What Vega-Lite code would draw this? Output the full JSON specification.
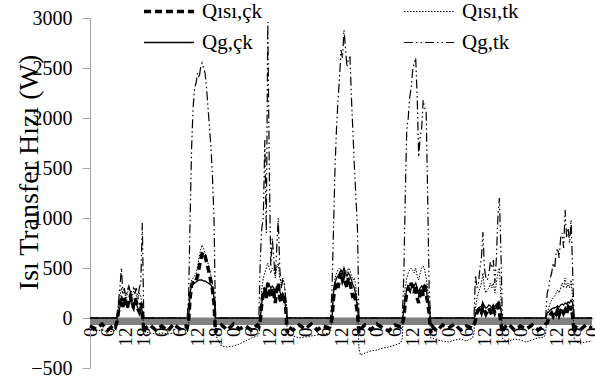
{
"$schema": "https://vega.github.io/schema/vega-lite/v6.json",
"width": 502, "height": 350,
"autosize": {"type": "none"},
"padding": {"left": 90, "top": 18, "right": 3, "bottom": 14},
"config": {"view": {"stroke": null}, "font": "Liberation Serif",
 "axis": {"labelFont": "Liberation Serif", "titleFont": "Liberation Serif", "labelOverlap": false},
 "legend": {"labelFont": "Liberation Serif"}},
"layer": [
{"data": {"values": [{}]},
 "mark": {"type": "rect", "color": "#808080"},
 "encoding": {
  "x": {"datum": 0, "type": "quantitative", "scale": {"domain": [0, 168], "nice": false, "zero": false},
   "axis": {"values": [0,6,12,18,24,30,36,42,48,54,60,66,72,78,84,90,96,102,108,114,120,126,132,138,144,150,156,162,168],
    "labelExpr": "'' + (datum.value % 24)", "labelAngle": -90, "labelFont": "Liberation Serif", "labelFontSize": 19,
    "labelColor": "black", "labelPadding": 9, "ticks": false, "grid": false, "offset": -50,
    "domainColor": "black", "domainWidth": 1.5, "title": null, "labelFlush": false, "labelOverlap": false}},
  "x2": {"datum": 168},
  "y": {"datum": 0, "type": "quantitative", "scale": {"domain": [-500, 3000], "nice": false},
   "axis": {"values": [-500,0,500,1000,1500,2000,2500,3000], "format": "d",
    "title": "Isı Transfer Hızı (W)", "titleFont": "Liberation Serif", "titleFontSize": 28, "titleFontWeight": "normal",
    "titleColor": "black", "titleX": -61, "titleY": 154, "titleAngle": -90, "titleBaseline": "middle", "titleAlign": "center",
    "labelFont": "Liberation Serif", "labelFontSize": 20, "labelColor": "black", "labelPadding": 10,
    "tickSize": 8, "tickColor": "#a6a6a6", "domainColor": "#a6a6a6", "gridColor": "#d9d9d9", "gridWidth": 1.5}},
  "y2": {"datum": -70}
 }},
{"data": {"values": [
{"t":0,"a":-80,"b":-120,"c":0,"d":0},{"t":2,"a":-110,"b":-130,"c":0,"d":0},{"t":4,"a":-60,"b":-120,"c":0,"d":0},{"t":6,"a":-120,"b":-140,"c":0,"d":0},{"t":8,"a":-70,"b":-130,"c":0,"d":0},{"t":8.5,"a":-90,"b":-120,"c":0,"d":0},
{"t":9,"a":-40,"b":-60,"c":0,"d":0},{"t":9.5,"a":60,"b":100,"c":50,"d":150},{"t":10,"a":150,"b":200,"c":110,"d":300},{"t":10.5,"a":180,"b":300,"c":150,"d":500},{"t":11,"a":110,"b":240,"c":120,"d":250},{"t":11.5,"a":200,"b":280,"c":170,"d":300},{"t":12,"a":150,"b":200,"c":130,"d":200},{"t":12.5,"a":100,"b":240,"c":110,"d":280},{"t":13,"a":180,"b":300,"c":160,"d":320},{"t":13.5,"a":220,"b":260,"c":180,"d":250},{"t":14,"a":140,"b":200,"c":130,"d":270},{"t":14.5,"a":110,"b":260,"c":110,"d":300},{"t":15,"a":200,"b":300,"c":170,"d":250},{"t":15.5,"a":160,"b":220,"c":140,"d":300},{"t":16,"a":90,"b":180,"c":100,"d":200},{"t":16.5,"a":60,"b":250,"c":80,"d":300},{"t":17,"a":150,"b":220,"c":130,"d":350},{"t":17.5,"a":100,"b":100,"c":60,"d":950},{"t":18,"a":-150,"b":-120,"c":0,"d":0},
{"t":18.5,"a":-100,"b":-140,"c":0,"d":0},{"t":20,"a":-70,"b":-150,"c":0,"d":0},{"t":22,"a":-120,"b":-160,"c":0,"d":0},
{"t":24,"a":-80,"b":-150,"c":0,"d":0},{"t":26,"a":-130,"b":-160,"c":0,"d":0},{"t":28,"a":-60,"b":-150,"c":0,"d":0},{"t":30,"a":-110,"b":-170,"c":0,"d":0},{"t":32,"a":-80,"b":-160,"c":0,"d":0},{"t":32.5,"a":-100,"b":-150,"c":0,"d":0},
{"t":33,"a":-30,"b":-50,"c":0,"d":200},{"t":33.5,"a":200,"b":250,"c":250,"d":1000},{"t":34,"a":330,"b":380,"c":330,"d":1700},{"t":34.5,"a":350,"b":400,"c":350,"d":2100},{"t":35,"a":340,"b":420,"c":350,"d":2300},{"t":35.5,"a":380,"b":450,"c":360,"d":2350},{"t":36,"a":420,"b":520,"c":370,"d":2450},{"t":36.5,"a":500,"b":600,"c":380,"d":2400},{"t":37,"a":580,"b":680,"c":380,"d":2500},{"t":37.5,"a":640,"b":730,"c":380,"d":2550},{"t":38,"a":660,"b":700,"c":370,"d":2500},{"t":38.5,"a":620,"b":650,"c":370,"d":2450},{"t":39,"a":560,"b":600,"c":360,"d":2300},{"t":39.5,"a":500,"b":550,"c":350,"d":2100},{"t":40,"a":430,"b":480,"c":340,"d":1900},{"t":40.5,"a":360,"b":420,"c":330,"d":1700},{"t":41,"a":280,"b":350,"c":300,"d":1400},{"t":41.5,"a":150,"b":200,"c":200,"d":1000},{"t":42,"a":-150,"b":-150,"c":0,"d":0},
{"t":42.5,"a":-100,"b":-200,"c":0,"d":0},{"t":44,"a":-70,"b":-280,"c":0,"d":0},{"t":46,"a":-120,"b":-290,"c":0,"d":0},
{"t":48,"a":-60,"b":-280,"c":0,"d":0},{"t":50,"a":-110,"b":-260,"c":0,"d":0},{"t":52,"a":-80,"b":-230,"c":0,"d":0},{"t":54,"a":-120,"b":-200,"c":0,"d":0},{"t":56,"a":-70,"b":-180,"c":0,"d":0},{"t":56.5,"a":-90,"b":-170,"c":0,"d":0},
{"t":57,"a":-20,"b":0,"c":0,"d":600},{"t":57.5,"a":150,"b":300,"c":150,"d":900},{"t":58,"a":250,"b":400,"c":250,"d":1000},{"t":58.5,"a":300,"b":450,"c":300,"d":1780},{"t":59,"a":200,"b":500,"c":280,"d":850},{"t":59.5,"a":350,"b":550,"c":350,"d":2960},{"t":60,"a":280,"b":500,"c":330,"d":1500},{"t":60.5,"a":200,"b":450,"c":300,"d":510},{"t":61,"a":300,"b":500,"c":320,"d":800},{"t":61.5,"a":250,"b":480,"c":300,"d":600},{"t":62,"a":150,"b":420,"c":260,"d":400},{"t":62.5,"a":280,"b":500,"c":300,"d":700},{"t":63,"a":350,"b":550,"c":330,"d":1000},{"t":63.5,"a":200,"b":400,"c":270,"d":500},{"t":64,"a":150,"b":350,"c":220,"d":300},{"t":64.5,"a":250,"b":400,"c":250,"d":380},{"t":65,"a":200,"b":350,"c":200,"d":350},{"t":65.5,"a":100,"b":200,"c":100,"d":200},{"t":66,"a":-150,"b":-150,"c":0,"d":0},
{"t":66.5,"a":-90,"b":-160,"c":0,"d":0},{"t":68,"a":-120,"b":-180,"c":0,"d":0},{"t":70,"a":-70,"b":-200,"c":0,"d":0},
{"t":72,"a":-110,"b":-190,"c":0,"d":0},{"t":74,"a":-60,"b":-180,"c":0,"d":0},{"t":76,"a":-120,"b":-170,"c":0,"d":0},{"t":78,"a":-80,"b":-160,"c":0,"d":0},{"t":80,"a":-100,"b":-150,"c":0,"d":0},{"t":80.5,"a":-70,"b":-140,"c":0,"d":0},
{"t":81,"a":0,"b":50,"c":0,"d":300},{"t":81.5,"a":200,"b":300,"c":250,"d":900},{"t":82,"a":300,"b":400,"c":350,"d":1500},{"t":82.5,"a":350,"b":450,"c":400,"d":1900},{"t":83,"a":300,"b":480,"c":420,"d":2180},{"t":83.5,"a":400,"b":500,"c":450,"d":2400},{"t":84,"a":450,"b":480,"c":480,"d":2680},{"t":84.5,"a":380,"b":450,"c":450,"d":2600},{"t":85,"a":420,"b":500,"c":500,"d":2880},{"t":85.5,"a":350,"b":480,"c":450,"d":2700},{"t":86,"a":300,"b":450,"c":420,"d":2510},{"t":86.5,"a":400,"b":500,"c":450,"d":2600},{"t":87,"a":350,"b":480,"c":420,"d":2610},{"t":87.5,"a":280,"b":420,"c":380,"d":2200},{"t":88,"a":200,"b":380,"c":330,"d":1850},{"t":88.5,"a":250,"b":400,"c":300,"d":1500},{"t":89,"a":150,"b":300,"c":220,"d":1200},{"t":89.5,"a":50,"b":150,"c":100,"d":900},{"t":90,"a":-150,"b":-300,"c":0,"d":0},
{"t":90.5,"a":-110,"b":-370,"c":0,"d":0},{"t":92,"a":-70,"b":-350,"c":0,"d":0},{"t":94,"a":-120,"b":-330,"c":0,"d":0},
{"t":96,"a":-60,"b":-320,"c":0,"d":0},{"t":98,"a":-100,"b":-300,"c":0,"d":0},{"t":100,"a":-130,"b":-290,"c":0,"d":0},{"t":102,"a":-70,"b":-270,"c":0,"d":0},{"t":104,"a":-90,"b":-250,"c":0,"d":0},{"t":104.5,"a":-60,"b":-200,"c":0,"d":0},
{"t":105,"a":0,"b":100,"c":50,"d":400},{"t":105.5,"a":150,"b":300,"c":200,"d":1210},{"t":106,"a":250,"b":400,"c":280,"d":1880},{"t":106.5,"a":300,"b":450,"c":320,"d":2000},{"t":107,"a":280,"b":480,"c":330,"d":2210},{"t":107.5,"a":350,"b":500,"c":350,"d":2300},{"t":108,"a":300,"b":480,"c":340,"d":2480},{"t":108.5,"a":250,"b":450,"c":320,"d":2550},{"t":109,"a":330,"b":500,"c":350,"d":2600},{"t":109.5,"a":200,"b":420,"c":300,"d":2210},{"t":110,"a":150,"b":380,"c":260,"d":1610},{"t":110.5,"a":250,"b":450,"c":300,"d":1810},{"t":111,"a":300,"b":500,"c":320,"d":1900},{"t":111.5,"a":220,"b":520,"c":300,"d":2180},{"t":112,"a":350,"b":480,"c":330,"d":2100},{"t":112.5,"a":250,"b":400,"c":280,"d":2080},{"t":113,"a":150,"b":300,"c":200,"d":1210},{"t":113.5,"a":50,"b":100,"c":80,"d":300},{"t":114,"a":-150,"b":-200,"c":0,"d":0},
{"t":114.5,"a":-80,"b":-200,"c":0,"d":0},{"t":116,"a":-130,"b":-220,"c":0,"d":0},{"t":118,"a":-70,"b":-230,"c":0,"d":0},
{"t":120,"a":-100,"b":-240,"c":0,"d":0},{"t":122,"a":-60,"b":-220,"c":0,"d":0},{"t":124,"a":-120,"b":-210,"c":0,"d":0},{"t":126,"a":-80,"b":-230,"c":0,"d":0},{"t":128,"a":-100,"b":-200,"c":0,"d":0},{"t":128.5,"a":-70,"b":-150,"c":0,"d":0},
{"t":129,"a":-20,"b":100,"c":30,"d":430},{"t":129.5,"a":50,"b":200,"c":80,"d":300},{"t":130,"a":80,"b":250,"c":100,"d":350},{"t":130.5,"a":100,"b":300,"c":110,"d":500},{"t":131,"a":60,"b":350,"c":120,"d":600},{"t":131.5,"a":120,"b":450,"c":140,"d":860},{"t":132,"a":80,"b":300,"c":120,"d":500},{"t":132.5,"a":40,"b":250,"c":100,"d":400},{"t":133,"a":70,"b":280,"c":110,"d":380},{"t":133.5,"a":100,"b":300,"c":130,"d":450},{"t":134,"a":60,"b":350,"c":120,"d":560},{"t":134.5,"a":30,"b":300,"c":100,"d":500},{"t":135,"a":90,"b":350,"c":130,"d":580},{"t":135.5,"a":50,"b":250,"c":110,"d":350},{"t":136,"a":80,"b":350,"c":140,"d":600},{"t":136.5,"a":120,"b":450,"c":150,"d":1000},{"t":137,"a":60,"b":500,"c":160,"d":1200},{"t":137.5,"a":-50,"b":200,"c":80,"d":700},{"t":138,"a":-150,"b":-200,"c":0,"d":0},
{"t":138.5,"a":-100,"b":-220,"c":0,"d":0},{"t":140,"a":-60,"b":-230,"c":0,"d":0},{"t":142,"a":-120,"b":-210,"c":0,"d":0},
{"t":144,"a":-80,"b":-220,"c":0,"d":0},{"t":146,"a":-110,"b":-240,"c":0,"d":0},{"t":148,"a":-70,"b":-220,"c":0,"d":0},{"t":150,"a":-120,"b":-200,"c":0,"d":0},{"t":152,"a":-80,"b":-190,"c":0,"d":0},{"t":152.5,"a":-60,"b":-150,"c":0,"d":0},
{"t":153,"a":-50,"b":50,"c":50,"d":250},{"t":153.5,"a":0,"b":100,"c":60,"d":300},{"t":154,"a":30,"b":150,"c":80,"d":400},{"t":154.5,"a":50,"b":180,"c":90,"d":450},{"t":155,"a":20,"b":200,"c":100,"d":550},{"t":155.5,"a":60,"b":220,"c":100,"d":500},{"t":156,"a":40,"b":250,"c":110,"d":650},{"t":156.5,"a":80,"b":280,"c":120,"d":700},{"t":157,"a":30,"b":250,"c":110,"d":600},{"t":157.5,"a":70,"b":300,"c":130,"d":800},{"t":158,"a":100,"b":350,"c":140,"d":850},{"t":158.5,"a":50,"b":300,"c":130,"d":700},{"t":159,"a":80,"b":400,"c":150,"d":1080},{"t":159.5,"a":40,"b":300,"c":140,"d":800},{"t":160,"a":100,"b":350,"c":160,"d":900},{"t":160.5,"a":60,"b":300,"c":150,"d":750},{"t":161,"a":120,"b":380,"c":180,"d":980},{"t":161.5,"a":20,"b":200,"c":150,"d":500},{"t":162,"a":-150,"b":-200,"c":0,"d":0},
{"t":162.5,"a":-90,"b":-240,"c":0,"d":0},{"t":164,"a":-120,"b":-250,"c":0,"d":0},{"t":166,"a":-70,"b":-240,"c":0,"d":0},{"t":168,"a":-100,"b":-230,"c":0,"d":0}
 ]},
 "transform": [{"fold": ["a", "b", "c", "d"], "as": ["series", "value"]}],
 "mark": {"type": "line", "color": "black", "strokeCap": "butt"},
 "encoding": {
  "x": {"field": "t", "type": "quantitative",
   "scale": {"domain": [0, 168], "nice": false, "zero": false},
   "axis": {"values": [0,6,12,18,24,30,36,42,48,54,60,66,72,78,84,90,96,102,108,114,120,126,132,138,144,150,156,162,168],
    "labelExpr": "'' + (datum.value % 24)", "labelAngle": -90, "labelFont": "Liberation Serif", "labelFontSize": 19,
    "labelColor": "black", "labelPadding": 9, "ticks": false, "grid": false, "offset": -50,
    "domainColor": "black", "domainWidth": 1.5, "title": null, "labelFlush": false, "labelOverlap": false}},
  "y": {"field": "value", "type": "quantitative",
   "scale": {"domain": [-500, 3000], "nice": false},
   "axis": {"values": [-500,0,500,1000,1500,2000,2500,3000], "format": "d",
    "title": "Isı Transfer Hızı (W)", "titleFont": "Liberation Serif", "titleFontSize": 28, "titleFontWeight": "normal",
    "titleColor": "black", "titleX": -61, "titleY": 154, "titleAngle": -90, "titleBaseline": "middle", "titleAlign": "center",
    "labelFont": "Liberation Serif", "labelFontSize": 20, "labelColor": "black", "labelPadding": 10,
    "tickSize": 8, "tickColor": "#a6a6a6", "domainColor": "#a6a6a6", "gridColor": "#d9d9d9", "gridWidth": 1.5}},
  "strokeDash": {"field": "series", "type": "nominal",
   "scale": {"domain": ["a", "b", "c", "d"], "range": [[7, 4], [1.5, 1.5], [1, 0], [9, 3, 1.5, 3, 1.5, 3]]},
   "legend": {"orient": "none", "legendX": 52, "legendY": -22, "direction": "horizontal", "columns": 2, "title": null,
    "symbolType": "stroke", "symbolSize": 2500, "symbolStrokeColor": "black",
    "labelFont": "Liberation Serif", "labelFontSize": 21, "labelColor": "black", "labelOffset": 6,
    "columnPadding": 139, "rowPadding": 0, "clipHeight": 31,
    "labelExpr": "{'a': 'Qısı,çk', 'b': 'Qısı,tk', 'c': 'Qg,çk', 'd': 'Qg,tk'}[datum.label]"}},
  "strokeWidth": {"field": "series", "type": "nominal",
   "scale": {"type": "ordinal", "domain": ["a", "b", "c", "d"], "range": [3.5, 1, 1.3, 1.2]}}
 }}
]
}
